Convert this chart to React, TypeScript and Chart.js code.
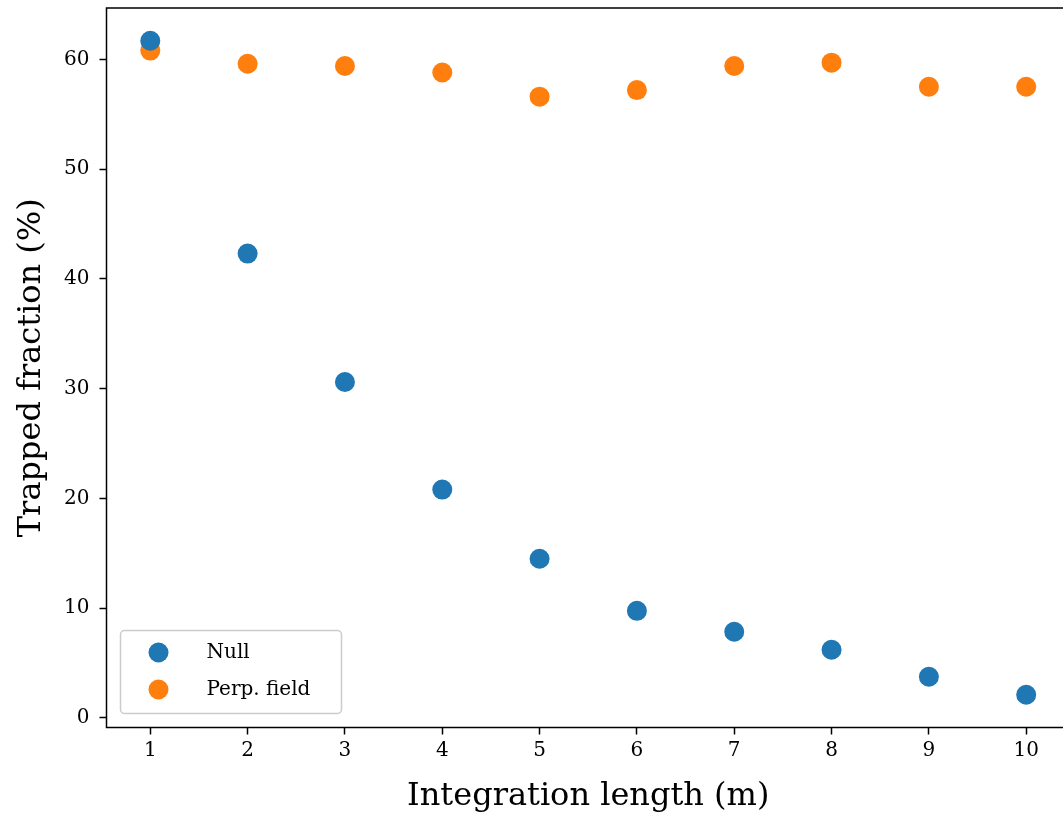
import React, { useEffect, useRef } from "react";
import { Chart, registerables } from "chart.js";

Chart.register(...registerables);

const lengths = [1, 2, 3, 4, 5, 6, 7, 8, 9, 10];
const nullValues = [61.7, 42.3, 30.6, 20.8, 14.5, 9.75, 7.84, 6.2, 3.74, 2.1];
const perpValues = [60.8, 59.6, 59.4, 58.8, 56.6, 57.2, 59.4, 59.7, 57.5, 57.5];
const xTicks = [1, 2, 3, 4, 5, 6, 7, 8, 9, 10];
const yTicks = [0, 10, 20, 30, 40, 50, 60];
const seriesNames = ["Null", "Perp. field"];
const seriesColors = ["#1f77b4", "#ff7f0e"];

const FONT = "'DejaVu Serif', 'Liberation Serif', serif";

const framePlugin = {
  id: "frame",
  afterDatasetsDraw(chart: any) {
    const { ctx, chartArea } = chart;
    ctx.save();
    ctx.strokeStyle = "#000";
    ctx.lineWidth = 1.5;
    ctx.strokeRect(chartArea.left, chartArea.top, chartArea.right - chartArea.left, chartArea.bottom - chartArea.top);
    ctx.restore();
  },
};

const legendPlugin = {
  id: "mplLegend",
  afterDatasetsDraw(chart: any) {
    const { ctx, chartArea } = chart;
    const x = chartArea.left + 14;
    const y = chartArea.bottom - 97;
    const w = 221;
    const h = 83;
    ctx.save();
    ctx.beginPath();
    const r = 4;
    ctx.moveTo(x + r, y);
    ctx.arcTo(x + w, y, x + w, y + h, r);
    ctx.arcTo(x + w, y + h, x, y + h, r);
    ctx.arcTo(x, y + h, x, y, r);
    ctx.arcTo(x, y, x + w, y, r);
    ctx.closePath();
    ctx.fillStyle = "rgba(255,255,255,0.8)";
    ctx.fill();
    ctx.strokeStyle = "#cccccc";
    ctx.lineWidth = 1.5;
    ctx.stroke();
    ctx.font = `20px ${FONT}`;
    ctx.textBaseline = "middle";
    ctx.textAlign = "left";
    seriesNames.forEach((name, i) => {
      const cy = y + 22 + i * 37;
      ctx.beginPath();
      ctx.arc(x + 38, cy, 10, 0, Math.PI * 2);
      ctx.fillStyle = seriesColors[i];
      ctx.fill();
      ctx.fillStyle = "#000";
      ctx.fillText(name, x + 86, cy);
    });
    ctx.restore();
  },
};

export default function App() {
  const ref = useRef<HTMLCanvasElement>(null);
  useEffect(() => {
    if (!ref.current) return;
    const chart = new Chart(ref.current, {
      type: "scatter",
      data: {
        datasets: [
          {
            label: seriesNames[0],
            data: lengths.map((x, i) => ({ x, y: nullValues[i] })),
            backgroundColor: seriesColors[0],
            borderWidth: 0,
            pointRadius: 10,
          },
          {
            label: seriesNames[1],
            data: lengths.map((x, i) => ({ x, y: perpValues[i] })),
            backgroundColor: seriesColors[1],
            borderWidth: 0,
            pointRadius: 10,
          },
        ],
      },
      plugins: [framePlugin, legendPlugin],
      options: {
        animation: false,
        responsive: false,
        layout: { autoPadding: false, padding: { top: 8, right: 2, left: 0, bottom: 0 } },
        plugins: { legend: { display: false }, tooltip: { enabled: false } },
        scales: {
          x: {
            type: "linear",
            min: 0.55,
            max: 10.45,
            afterBuildTicks: (s: any) => {
              s.ticks = xTicks.map((v) => ({ value: v }));
            },
            afterFit: (s: any) => {
              s.height = 88.5;
              s.paddingLeft = 0;
              s.paddingRight = 0;
            },
            grid: { drawOnChartArea: false, drawTicks: true, tickLength: 7, tickColor: "#000", tickWidth: 1.5 },
            border: { display: false },
            ticks: { color: "#000", font: { family: FONT, size: 20 }, padding: 4, maxRotation: 0 },
            title: {
              display: true,
              text: "Integration length (m)",
              color: "#000",
              font: { family: FONT, size: 32 },
              padding: { top: 0, bottom: 0 },
            },
          },
          y: {
            type: "linear",
            min: -0.88,
            max: 64.68,
            afterBuildTicks: (s: any) => {
              s.ticks = yTicks.map((v) => ({ value: v }));
            },
            afterFit: (s: any) => {
              s.width = 106.5;
              s.paddingTop = 0;
              s.paddingBottom = 0;
            },
            grid: { drawOnChartArea: false, drawTicks: true, tickLength: 7, tickColor: "#000", tickWidth: 1.5 },
            border: { display: false },
            ticks: { color: "#000", font: { family: FONT, size: 20 }, padding: 10 },
            title: {
              display: true,
              text: "Trapped fraction (%)",
              color: "#000",
              font: { family: FONT, size: 32 },
              padding: { top: 12, bottom: 0 },
            },
          },
        },
      },
    });
    return () => chart.destroy();
  }, []);
  return (
    <div style={{ position: "absolute", left: 0, top: 0, width: 1063, height: 816, overflow: "hidden", background: "#fff" }}>
      <canvas ref={ref} width={1072} height={816} style={{ display: "block" }} />
    </div>
  );
}
